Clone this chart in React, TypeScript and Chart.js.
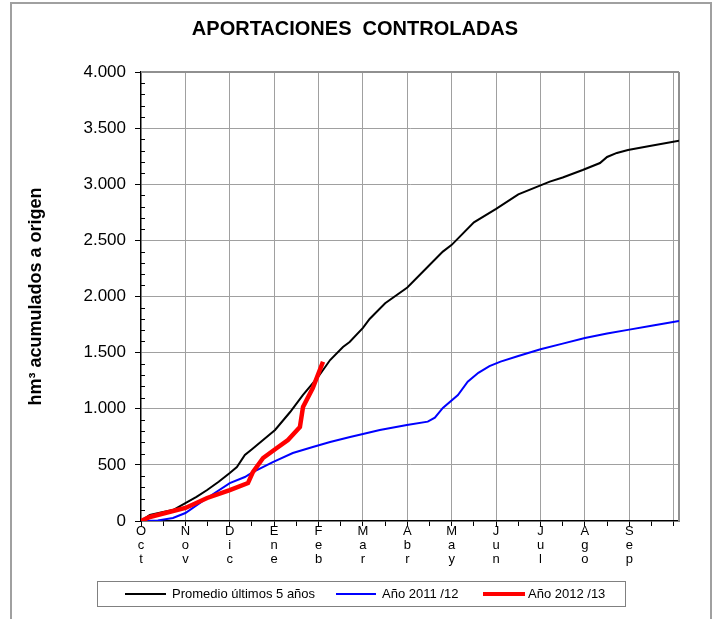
import React, { useEffect, useRef } from "react";
import { Chart, registerables } from "chart.js";

Chart.register(...registerables);

const months = ["Oct", "Nov", "Dic", "Ene", "Feb", "Mar", "Abr", "May", "Jun", "Jul", "Ago", "Sep"];
const yTicks = [0, 500, 1000, 1500, 2000, 2500, 3000, 3500, 4000];

// x in months from 1 October
const promedioX = [0, 0.2, 0.5, 0.72, 1.0, 1.25, 1.49, 1.75, 2.0, 2.16, 2.34, 2.5, 2.75, 3.02, 3.36, 3.65, 3.99, 4.26, 4.55, 4.7, 5.0, 5.15, 5.5, 6.0, 6.5, 6.8, 7.0, 7.5, 8.0, 8.5, 9.0, 9.21, 9.5, 9.95, 10.34, 10.5, 10.72, 10.97, 11.46, 12.12];
const promedioY = [0, 53, 80, 98, 160, 215, 276, 350, 428, 481, 588, 640, 722, 811, 971, 1123, 1283, 1434, 1550, 1595, 1720, 1800, 1940, 2080, 2280, 2400, 2460, 2660, 2780, 2910, 2990, 3023, 3060, 3127, 3189, 3243, 3279, 3305, 3341, 3388];

const a1112X = [0, 0.38, 0.72, 1.0, 1.49, 2.0, 2.34, 2.52, 2.97, 3.42, 3.87, 4.26, 4.71, 5.0, 5.38, 5.99, 6.46, 6.62, 6.8, 7.14, 7.36, 7.6, 7.85, 8.1, 8.5, 9.0, 9.5, 10.0, 10.5, 11.0, 11.5, 12.12];
const a1112Y = [0, 5, 27, 71, 205, 338, 392, 436, 525, 606, 659, 704, 748, 775, 811, 855, 885, 920, 1007, 1122, 1241, 1320, 1380, 1420, 1470, 1530, 1580, 1630, 1670, 1705, 1740, 1782];

const a1213X = [0, 0.2, 0.72, 1.0, 1.49, 2.0, 2.41, 2.52, 2.75, 3.06, 3.31, 3.58, 3.65, 3.87, 4.1];
const a1213Y = [0, 36, 89, 116, 205, 276, 338, 436, 561, 650, 722, 837, 1016, 1185, 1419];

const seriesNames = ["Promedio últimos 5 años", "Año 2011 /12", "Año 2012 /13"];
const titleText = "APORTACIONES  CONTROLADAS";
const yTitle = "hm³ acumulados a origen";

const FONT = '"Liberation Sans", Arial, sans-serif';

const zip = (xs: number[], ys: number[]) => xs.map((x, i) => ({ x, y: ys[i] }));
const fmt = (v: number) => (v >= 1000 ? `${Math.floor(v / 1000)}.${String(v % 1000).padStart(3, "0")}` : String(v));

export default function App() {
  const ref = useRef<HTMLCanvasElement>(null);
  useEffect(() => {
    document.body.style.margin = "0";
    const canvas = ref.current!;
    const decor = {
      id: "decor",
      beforeDatasetsDraw(chart: any) {
        const { ctx, chartArea: a, scales } = chart;
        ctx.save();
        ctx.strokeStyle = "#909090";
        ctx.lineWidth = 2;
        ctx.beginPath();
        ctx.moveTo(a.left, a.top);
        ctx.lineTo(a.right, a.top);
        ctx.moveTo(a.right, a.top);
        ctx.lineTo(a.right, a.bottom);
        ctx.stroke();
        // minor y ticks inside
        ctx.strokeStyle = "#000";
        ctx.lineWidth = 1;
        ctx.beginPath();
        for (let v = 100; v < 4000; v += 100) {
          if (v % 500 === 0) continue;
          const y = Math.round(scales.y.getPixelForValue(v)) + 0.5;
          ctx.moveTo(a.left, y);
          ctx.lineTo(a.left + 4, y);
        }
        ctx.stroke();
        ctx.restore();
      },
      afterDraw(chart: any) {
        const { ctx, chartArea: a } = chart;
        ctx.save();
        // outer frame
        ctx.strokeStyle = "#a0a0a0";
        ctx.lineWidth = 2;
        ctx.beginPath();
        ctx.moveTo(11, 619);
        ctx.lineTo(11, 3);
        ctx.lineTo(711, 3);
        ctx.lineTo(711, 619);
        ctx.stroke();
        // title
        ctx.fillStyle = "#000";
        ctx.font = `bold 20px ${FONT}`;
        ctx.textAlign = "center";
        ctx.textBaseline = "middle";
        ctx.fillText(titleText, 355, 29);
        // y title
        ctx.save();
        ctx.translate(36, (a.top + a.bottom) / 2);
        ctx.rotate(-Math.PI / 2);
        ctx.font = `bold 18px ${FONT}`;
        ctx.fillText(yTitle, 0, 0);
        ctx.restore();
        // legend
        ctx.strokeStyle = "#808080";
        ctx.lineWidth = 1;
        ctx.strokeRect(97.5, 581.5, 528, 25);
        const items = [
          { x1: 125, x2: 166, tx: 172, color: "#000", w: 2 },
          { x1: 336, x2: 376, tx: 382, color: "#0000ff", w: 2 },
          { x1: 483, x2: 525, tx: 528, color: "#ff0000", w: 4 },
        ];
        ctx.font = `13px ${FONT}`;
        ctx.textAlign = "left";
        items.forEach((it, i) => {
          ctx.strokeStyle = it.color;
          ctx.lineWidth = it.w;
          ctx.beginPath();
          ctx.moveTo(it.x1, 594);
          ctx.lineTo(it.x2, 594);
          ctx.stroke();
          ctx.fillStyle = "#000";
          ctx.fillText(seriesNames[i], it.tx, 594);
        });
        ctx.restore();
      },
    };
    const chart = new Chart(canvas, {
      type: "line",
      data: {
        datasets: [
          { label: seriesNames[0], data: zip(promedioX, promedioY), borderColor: "#000", borderWidth: 2, pointRadius: 0, order: 1 },
          { label: seriesNames[1], data: zip(a1112X, a1112Y), borderColor: "#0000ff", borderWidth: 2, pointRadius: 0, order: 2 },
          { label: seriesNames[2], data: zip(a1213X, a1213Y), borderColor: "#ff0000", borderWidth: 4.5, pointRadius: 0, order: 0 },
        ],
      },
      options: {
        responsive: false,
        animation: false,
        layout: { padding: { left: 0, right: 37, top: 72, bottom: 0 } },
        plugins: { legend: { display: false }, title: { display: false }, tooltip: { enabled: false } },
        scales: {
          x: {
            type: "linear",
            min: 0,
            max: 12.12,
            afterBuildTicks: (s: any) => {
              const t = [];
              for (let v = 0; v <= 12; v += 0.5) t.push({ value: v });
              s.ticks = t;
            },
            afterFit: (s: any) => {
              s.height = 98;
            },
            ticks: {
              autoSkip: false,
              maxRotation: 0,
              minRotation: 0,
              padding: -2,
              color: "#000",
              font: { family: FONT, size: 13, lineHeight: 1.08 },
              callback: (v: any) => (Number.isInteger(v) && v < 12 ? months[v].split("") : ""),
            },
            grid: {
              color: (c: any) => (c.tick && Number.isInteger(c.tick.value) && c.tick.value > 0 ? "#a0a0a0" : "rgba(0,0,0,0)"),
              tickColor: "#000",
              tickLength: 5,
              lineWidth: 1,
            },
            border: { color: "#000", width: 1.5 },
          },
          y: {
            min: 0,
            max: 4000,
            afterBuildTicks: (s: any) => {
              s.ticks = yTicks.map((v) => ({ value: v }));
            },
            afterFit: (s: any) => {
              s.width = 141;
            },
            ticks: {
              padding: 9,
              color: "#000",
              font: { family: FONT, size: 17 },
              callback: (v: any) => fmt(Number(v)),
            },
            grid: {
              color: (c: any) => (c.tick && c.tick.value > 0 && c.tick.value < 4000 ? "#a0a0a0" : "rgba(0,0,0,0)"),
              tickColor: "#000",
              tickLength: 6,
              lineWidth: 1,
            },
            border: { color: "#000", width: 1.5 },
          },
        },
      },
      plugins: [decor],
    } as any);
    return () => chart.destroy();
  }, []);
  return (
    <div style={{ position: "relative", width: 716, height: 619 }}>
      <canvas ref={ref} width={716} height={619} />
    </div>
  );
}
